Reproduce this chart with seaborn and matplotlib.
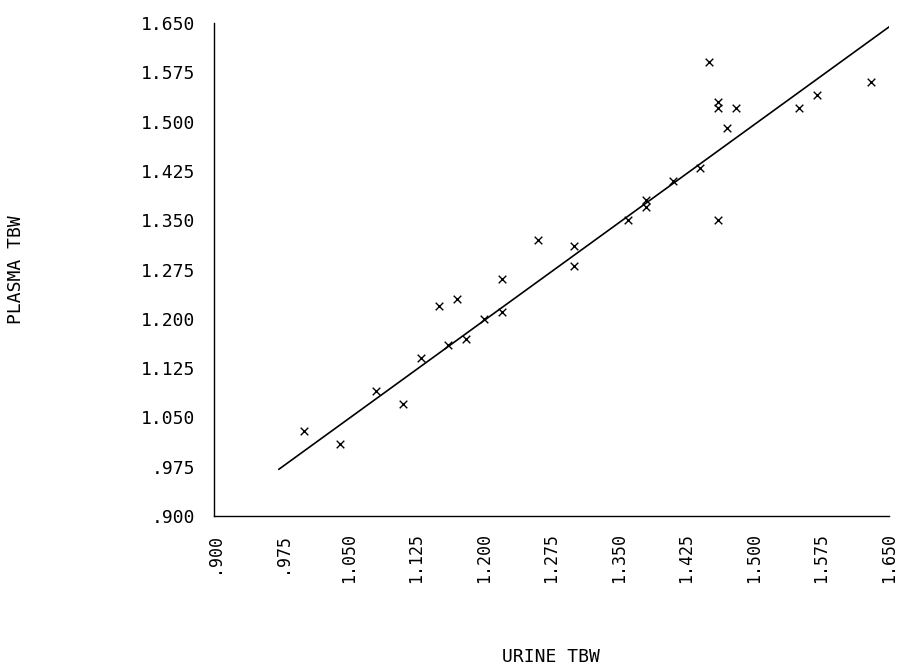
import matplotlib
matplotlib.use("Agg")
import matplotlib.pyplot as plt
import seaborn as sns
import pandas as pd

# Data
urine_tbw = [1.00, 1.04, 1.08, 1.11, 1.13, 1.15, 1.17, 1.16, 1.18, 1.20,
             1.22, 1.22, 1.26, 1.30, 1.30, 1.36, 1.38, 1.38, 1.41, 1.44,
             1.45, 1.46, 1.46, 1.46, 1.47, 1.48, 1.55, 1.57, 1.63]
plasma_tbw = [1.03, 1.01, 1.09, 1.07, 1.14, 1.22, 1.23, 1.16, 1.17, 1.20,
              1.26, 1.21, 1.32, 1.31, 1.28, 1.35, 1.38, 1.37, 1.41, 1.43,
              1.59, 1.53, 1.52, 1.35, 1.49, 1.52, 1.52, 1.54, 1.56]

fit_x = [0.972, 1.653]
fit_y = [0.971, 1.647]

tick_values = [0.900, 0.975, 1.050, 1.125, 1.200, 1.275, 1.350, 1.425, 1.500, 1.575, 1.650]
tick_labels = [".900", ".975", "1.050", "1.125", "1.200", "1.275", "1.350",
               "1.425", "1.500", "1.575", "1.650"]

sns.set_theme(style="white")
plt.rcParams['font.family'] = ['DejaVu Sans Mono', 'DejaVu Sans']

df = pd.DataFrame({"URINE TBW": urine_tbw, "PLASMA TBW": plasma_tbw})
fit = pd.DataFrame({"x": fit_x, "y": fit_y})

fig = plt.figure(figsize=(8.97, 6.65), dpi=100)
ax = fig.add_axes([214 / 897, 1 - 516 / 665, 675 / 897, 493 / 665])

sns.lineplot(data=fit, x="x", y="y", ax=ax, color="black", linewidth=1.2)
sns.scatterplot(data=df, x="URINE TBW", y="PLASMA TBW", ax=ax, marker="x",
                color="black", s=30, linewidth=1.0)

ax.set_xlim(0.9, 1.65)
ax.set_ylim(0.9, 1.65)
ax.set_xticks(tick_values)
ax.set_xticklabels(tick_labels, rotation=90, fontsize=12)
ax.set_yticks(tick_values)
ax.set_yticklabels(tick_labels, fontsize=13)

for side in ["top", "right"]:
    ax.spines[side].set_visible(False)
for side in ["left", "bottom"]:
    ax.spines[side].set_color("black")
    ax.spines[side].set_linewidth(1.0)

ax.tick_params(axis="x", direction="in", length=5, width=1.0,
               color="black", labelcolor="black", pad=12)
ax.tick_params(axis="y", direction="inout", length=7, width=1.0,
               color="black", labelcolor="black", pad=10)

ax.set_xlabel("URINE TBW", fontsize=13, color="black")
ax.set_ylabel("PLASMA TBW", fontsize=13, color="black")
ax.xaxis.set_label_coords((551 - 214) / 675, (516 - 648) / 493)
ax.yaxis.set_label_coords((25 - 214) / 675, 0.5)

fig.savefig("out.png", dpi=100, facecolor="white")
